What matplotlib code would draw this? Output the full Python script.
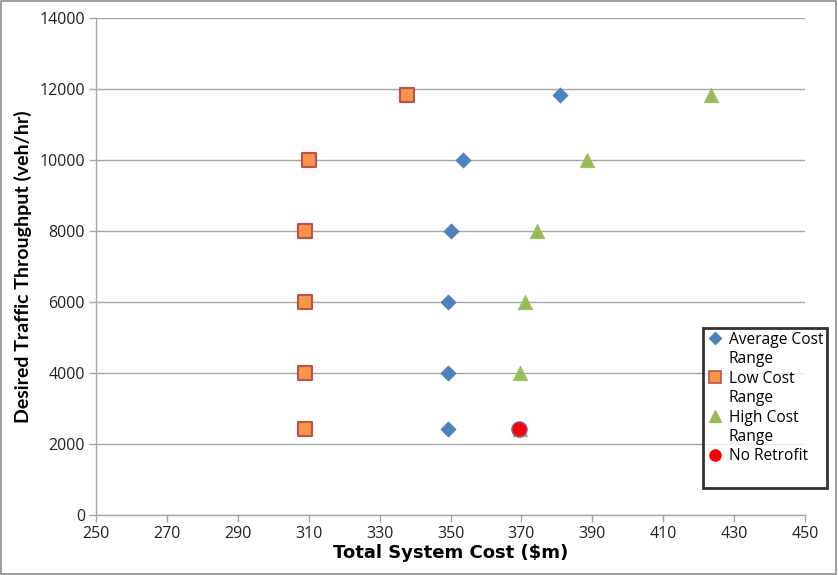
import matplotlib
matplotlib.use("Agg")
import matplotlib.pyplot as plt
from matplotlib.lines import Line2D
from matplotlib.patches import Rectangle

plt.rcParams['font.family'] = ['Open Sans', 'DejaVu Sans']

# Throughput levels (veh/hr)
throughput = [2420, 4000, 6000, 8000, 10000, 11830]

# Total system cost ($m) for each cost range
avg_cost = [349.3, 349.3, 349.3, 350.0, 353.5, 380.8]
low_cost = [309.0, 309.0, 309.0, 309.0, 310.0, 337.8]
high_cost = [369.5, 369.5, 371.0, 374.5, 388.5, 423.5]

no_retrofit_cost = [369.3]
no_retrofit_thr = [2420]

x_ticks = list(range(250, 451, 20))
y_ticks = list(range(0, 14001, 2000))

fig = plt.figure(figsize=(8.38, 5.75), dpi=100)
ax = fig.add_axes([96 / 838, 1 - 515 / 575, 709 / 838, 497 / 575])

grid_c = '#A6A6A6'
ax.set_xlim(250, 450)
ax.set_ylim(0, 14000)
ax.set_xticks(x_ticks)
ax.set_yticks(y_ticks)
ax.yaxis.grid(True, color=grid_c, linewidth=1)
ax.set_axisbelow(True)
for s in ['top', 'right']:
    ax.spines[s].set_visible(False)
for s in ['left', 'bottom']:
    ax.spines[s].set_color(grid_c)
    ax.spines[s].set_linewidth(1)
ax.tick_params(axis='both', colors=grid_c, length=5, width=1, labelsize=11.5,
               labelcolor='#222222', pad=3)

ax.scatter(avg_cost, throughput, marker='D', s=60, color='#4F81BD',
           edgecolors='#4F81BD', linewidths=0.5, zorder=3)
ax.scatter(low_cost, throughput, marker='s', s=110, color='#F79646',
           edgecolors='#C0504D', linewidths=1.5, zorder=3)
ax.scatter(high_cost, throughput, marker='^', s=110, color='#9BBB59',
           edgecolors='#9BBB59', linewidths=0.5, zorder=3)
ax.scatter(no_retrofit_cost, no_retrofit_thr, marker='o', s=120, color='#FF0000',
           edgecolors='#8064A2', linewidths=1.0, zorder=4)

ax.set_xlabel('Total System Cost ($m)', fontsize=13, fontweight='bold',
              family=['DejaVu Sans'], labelpad=1)
ax.set_ylabel('Desired Traffic Throughput (veh/hr)', fontsize=14, fontweight='bold',
              family=['Lato', 'DejaVu Sans'], labelpad=5)

blank = Line2D([], [], linestyle='none', marker='none')
handles = [
    Line2D([], [], linestyle='none', marker='D', markersize=6, color='#4F81BD'),
    blank,
    Line2D([], [], linestyle='none', marker='s', markersize=8, markerfacecolor='#F79646',
           markeredgecolor='#C0504D', markeredgewidth=1.2),
    blank,
    Line2D([], [], linestyle='none', marker='^', markersize=8, color='#9BBB59'),
    blank,
    Line2D([], [], linestyle='none', marker='o', markersize=8, color='#FF0000'),
    blank,
]
labels = ['Average Cost', 'Range', 'Low Cost', 'Range', 'High Cost', 'Range',
          'No Retrofit', '']
leg = fig.legend(handles, labels, loc='upper left',
                 bbox_to_anchor=(703 / 838, 1 - 328 / 575),
                 fontsize=11.2, frameon=True, fancybox=False,
                 handlelength=1.1, handletextpad=0.3, borderpad=0.25,
                 labelspacing=0.22, borderaxespad=0)
leg.get_frame().set_edgecolor('black')
leg.get_frame().set_linewidth(2)

# outer chart border
fig.patches.append(Rectangle((0.001, 0.002), 0.997, 0.996, transform=fig.transFigure,
                             fill=False, edgecolor='#8C8C8C', linewidth=1.2))

fig.savefig('out.png', dpi=100)
